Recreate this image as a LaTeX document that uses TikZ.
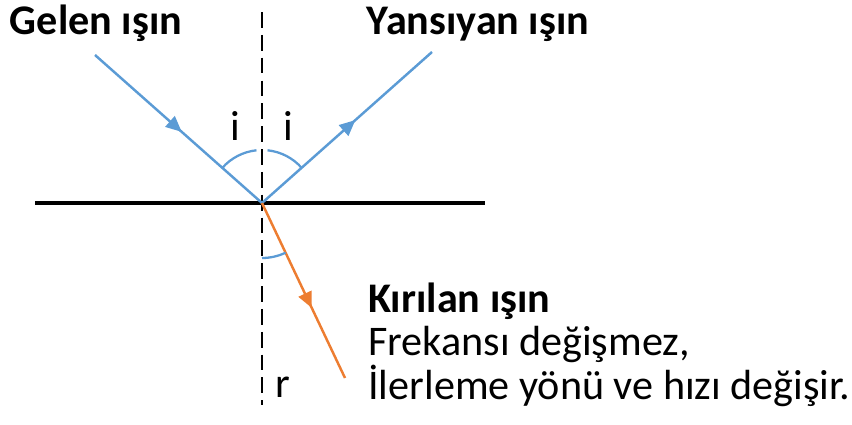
\documentclass[tikz,border=0pt]{standalone}
\usepackage{fontspec}
\setmainfont{Carlito}
\usetikzlibrary{arrows.meta,decorations.markings}

\definecolor{rayblue}{HTML}{5B9BD5}
\definecolor{rayorange}{HTML}{ED7D31}

\begin{document}
\begin{tikzpicture}[
        x=0.02cm, y=0.02cm,
        font=\fontsize{24}{29}\selectfont,
        ray/.style={line width=1.4pt, postaction={decorate},
            decoration={markings, mark=at position #1 with {\arrow{Triangle[length=9pt,width=8pt]}}}},
        anglearc/.style={rayblue, line width=1.3pt},
        lbl/.style={anchor=base, inner sep=0pt}
    ]
        \useasboundingbox (0,0) rectangle (852,424);

        % mirror surface and normal
        \coordinate (O) at (262,221);
        \coordinate (normtop) at (262,412);
        \coordinate (normbot) at (262,19);
        \coordinate (surfL) at (35,221);
        \coordinate (surfR) at (485,221);
        \coordinate (inc) at (95,369);
        \coordinate (refl) at (432,372);
        \coordinate (refr) at (345,46);

        \draw[line width=1.4pt, dash pattern=on 9pt off 4pt] (normtop) -- (normbot);
        \draw[line width=2.2pt] (surfL) -- (surfR);

        % rays
        \draw[ray=0.52, rayblue] (inc) -- (O);
        \draw[ray=0.55, rayblue] (O) -- (refl);
        \draw[ray=0.6, rayorange] (O) -- (refr);

        % angles
        \draw[anglearc] (O) ++(138.4:53) arc (138.4:96:53);
        \draw[anglearc] (O) ++(41.6:53) arc (41.6:84:53);
        \draw[anglearc] (O) ++(270:55) arc (270:295.4:55);

        % labels
        \node[lbl] (gelen) at (96,390) {\bfseries Gelen ışın};
        \node[lbl] (yansiyan) at (478,390) {\bfseries Yansıyan ışın};
        \node[lbl] (ileft) at (235,284) {i};
        \node[lbl] (iright) at (288,284) {i};
        \node[lbl] (rlbl) at (283,27) {r};
        \node[lbl, anchor=base west] (kirilan) at (368,112) {\bfseries Kırılan ışın};
        \node[lbl, anchor=base west] (frekans) at (368,69) {Frekansı değişmez,};
        \node[lbl, anchor=base west] (ilerleme) at (368,25) {İlerleme yönü ve hızı değişir.};
\end{tikzpicture}
\end{document}
